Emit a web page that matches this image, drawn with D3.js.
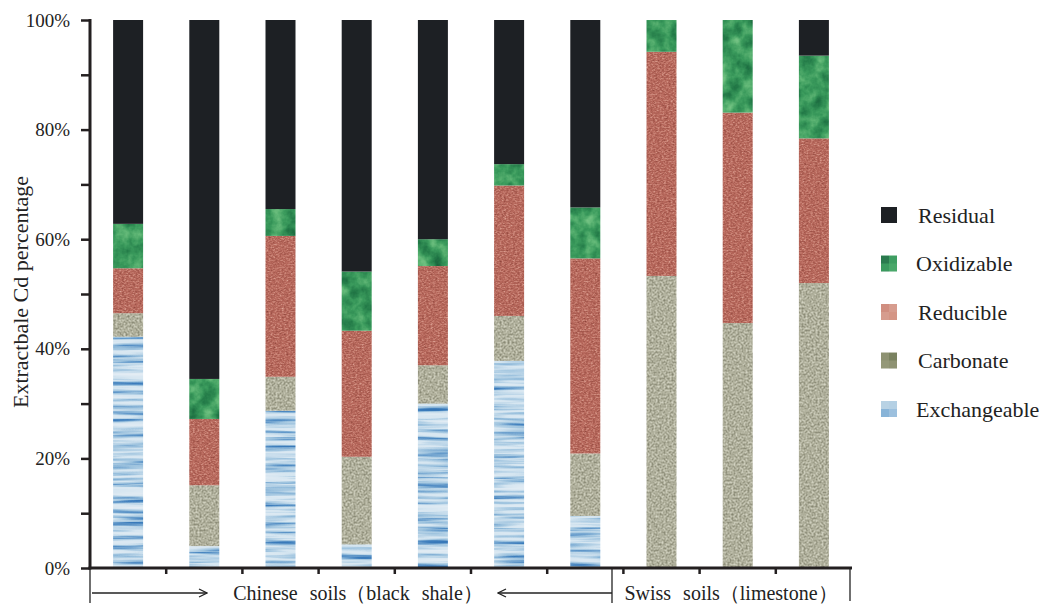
<!DOCTYPE html>
<html>
<head>
<meta charset="utf-8">
<script src="https://cdn.jsdelivr.net/npm/d3@7"></script>
<style>
  body { margin: 0; background: #fff; }
  svg text { font-family: "Liberation Serif", "Times New Roman", "DejaVu Serif", serif; fill: #222; }
</style>
</head>
<body>
<svg id="drawing_region"></svg>
<script>
// samples (no labels on the x axis in the original)
const samples = ["C1", "C2", "C3", "C4", "C5", "C6", "C7", "S1", "S2", "S3"];
const fractions = ["Exchangeable", "Carbonate", "Reducible", "Oxidizable", "Residual"];
// Cd fraction percentages
const exchangeable = [42.2, 4.0, 28.7, 4.3, 30.0, 37.8, 9.5, 0, 0, 0];
const carbonate    = [4.3, 11.1, 6.2, 16.0, 7.0, 8.2, 11.4, 53.3, 44.7, 52.0];
const reducible    = [8.2, 12.1, 25.7, 23.0, 18.1, 23.8, 35.6, 40.9, 38.4, 26.4];
const oxidizable   = [8.1, 7.3, 4.9, 10.8, 4.9, 3.9, 9.3, 5.8, 16.9, 15.1];
const residual     = [37.2, 65.5, 34.5, 45.9, 40.0, 26.3, 34.2, 0, 0, 6.5];
const yTicks = [0, 10, 20, 30, 40, 50, 60, 70, 80, 90, 100];
const groupLabels = ["Chinese soils（black shale）", "Swiss soils（limestone）"];
const legendOrder = ["Residual", "Oxidizable", "Reducible", "Carbonate", "Exchangeable"];

const series = {Exchangeable: exchangeable, Carbonate: carbonate, Reducible: reducible,
                Oxidizable: oxidizable, Residual: residual};
const table = samples.map((s, i) => {
    const row = {sample: s};
    fractions.forEach(f => row[f] = series[f][i]);
    return row;
});

const config = {
    width: 1043, height: 606,
    left: 90, right: 852, top: 20, bottom: 568
};

const svg = d3.select('#drawing_region')
    .attr('width', config.width)
    .attr('height', config.height);

const defs = svg.append('defs');

// texture filters: noise -> grey -> colour ramp -> clipped to the shape
const textures = {
    Exchangeable: {freq: "0.01 0.22", oct: 3, ramp: ["#2d68a6", "#3b7cbc", "#9cc2de", "#d6e6f1", "#e2ecf4", "#e8f0f5"]},
    Carbonate:    {freq: "0.5", oct: 2, ramp: ["#727260", "#8e8e7a", "#b0b09c", "#cfcfbe", "#e4e4d6"]},
    Reducible:    {freq: "0.45 0.7", oct: 2, ramp: ["#7e3a32", "#a2564b", "#b8695d", "#cf8c7e", "#e6b8aa"]},
    Oxidizable:   {freq: "0.07", oct: 4, ramp: ["#175a38", "#237a48", "#3a9a5c", "#62b877", "#86cc90"]}
};

Object.entries(textures).forEach(([name, t]) => {
    const rgb = t.ramp.map(c => d3.rgb(c));
    const f = defs.append('filter')
        .attr('id', 'tex-' + name)
        .attr('x', 0).attr('y', 0).attr('width', 1).attr('height', 1)
        .attr('color-interpolation-filters', 'sRGB');
    f.append('feTurbulence')
        .attr('type', 'fractalNoise')
        .attr('baseFrequency', t.freq)
        .attr('numOctaves', t.oct)
        .attr('seed', name.length * 7)
        .attr('result', 'noise');
    f.append('feColorMatrix')
        .attr('type', 'matrix')
        .attr('values', '1 0 0 0 0  1 0 0 0 0  1 0 0 0 0  0 0 0 0 1');
    const ct = f.append('feComponentTransfer');
    ct.append('feFuncR').attr('type', 'table').attr('tableValues', rgb.map(c => (c.r / 255).toFixed(3)).join(' '));
    ct.append('feFuncG').attr('type', 'table').attr('tableValues', rgb.map(c => (c.g / 255).toFixed(3)).join(' '));
    ct.append('feFuncB').attr('type', 'table').attr('tableValues', rgb.map(c => (c.b / 255).toFixed(3)).join(' '));
    f.append('feComposite').attr('in2', 'SourceGraphic').attr('operator', 'in');
});

// legend swatch patterns (2x2 tone blocks)
const swatchTones = {
    Residual: ["#1d2024", "#1d2024", "#1d2024", "#1d2024"],
    Oxidizable: ["#2a7a4e", "#3e9e62", "#3a9a5e", "#4aa86a"],
    Reducible: ["#d08e80", "#d69c8e", "#d69c8e", "#d49585"],
    Carbonate: ["#8e9272", "#7a8260", "#949878", "#8e9272"],
    Exchangeable: ["#b8d2e4", "#b4d0e4", "#88b4d8", "#9cc0de"]
};
Object.entries(swatchTones).forEach(([name, tones]) => {
    const p = defs.append('pattern')
        .attr('id', 'sw-' + name)
        .attr('patternUnits', 'userSpaceOnUse')
        .attr('width', 16).attr('height', 16);
    tones.forEach((c, i) => {
        p.append('rect')
            .attr('x', (i % 2) * 8).attr('y', Math.floor(i / 2) * 8)
            .attr('width', 8).attr('height', 8)
            .attr('fill', c);
    });
});

const xscale = d3.scaleBand()
    .domain(samples)
    .range([config.left, config.right])
    .padding(0);

const yscale = d3.scaleLinear()
    .domain([0, 100])
    .range([config.bottom, config.top]);

const barWidth = 30;
const stacked = d3.stack().keys(fractions)(table);

const baseFill = {Residual: '#1d2024', Oxidizable: '#2f8a55', Reducible: '#b0645a',
                  Carbonate: '#a6a690', Exchangeable: '#9cc0de'};

svg.append('g')
    .selectAll('g')
    .data(stacked)
    .join('g')
    .each(function(layer) {
        d3.select(this).selectAll('rect')
            .data(layer.filter(d => d[1] - d[0] > 0))
            .join('rect')
            .attr('x', d => xscale(d.data.sample) + (xscale.bandwidth() - barWidth) / 2)
            .attr('width', barWidth)
            .attr('y', d => yscale(d[1]))
            .attr('height', d => yscale(d[0]) - yscale(d[1]))
            .attr('fill', baseFill[layer.key])
            .attr('filter', layer.key === 'Residual' ? null : `url(#tex-${layer.key})`);
    });

// y axis
const yaxis = d3.axisLeft(yscale)
    .tickValues(yTicks)
    .tickSize(9)
    .tickPadding(11)
    .tickFormat(d => d % 20 === 0 ? d + '%' : '');

const yg = svg.append('g')
    .attr('transform', `translate(${config.left}, 0)`)
    .call(yaxis);
yg.select('.domain').attr('stroke', '#231f20').attr('stroke-width', 3)
    .attr('d', `M0,${config.top - 1}V${config.bottom + 1.5}`);
yg.selectAll('.tick line').attr('stroke', '#231f20').attr('stroke-width', 2.5);
yg.selectAll('.tick text')
    .attr('font-size', 19)
    .style('font-family', '"Liberation Serif", "Times New Roman", serif')
    .attr('fill', '#222');

// x axis line with ticks at band boundaries
const xg = svg.append('g');
xg.append('line')
    .attr('x1', config.left - 1.5).attr('x2', config.right)
    .attr('y1', config.bottom).attr('y2', config.bottom)
    .attr('stroke', '#231f20').attr('stroke-width', 3);
xg.selectAll('.xtick')
    .data(samples.slice(1))
    .join('line')
    .attr('class', 'xtick')
    .attr('x1', d => xscale(d)).attr('x2', d => xscale(d))
    .attr('y1', config.bottom).attr('y2', config.bottom + 6)
    .attr('stroke', '#231f20').attr('stroke-width', 2.5);

// y label
svg.append('text')
    .attr('transform', 'translate(28, 292) rotate(-90)')
    .attr('text-anchor', 'middle')
    .attr('font-size', 22)
    .text('Extractbale Cd percentage');

// group brackets under the axis
defs.append('marker')
    .attr('id', 'arrow')
    .attr('viewBox', '0 0 10 10')
    .attr('refX', 9).attr('refY', 5)
    .attr('markerWidth', 10).attr('markerHeight', 10)
    .attr('markerUnits', 'userSpaceOnUse')
    .attr('orient', 'auto')
    .append('path')
    .attr('d', 'M1,1 L9,5 L1,9')
    .attr('fill', 'none')
    .attr('stroke', '#222')
    .attr('stroke-width', 1.3);

const split = 612;
const br = svg.append('g').attr('stroke', '#222').attr('stroke-width', 1.3).attr('fill', 'none');
br.append('line').attr('x1', config.left).attr('x2', config.left).attr('y1', config.bottom).attr('y2', 603);
br.append('line').attr('x1', split).attr('x2', split).attr('y1', config.bottom).attr('y2', 603);
br.append('line').attr('x1', config.right - 2).attr('x2', config.right - 2).attr('y1', config.bottom).attr('y2', 601);
br.append('line').attr('x1', config.left + 2).attr('x2', 207).attr('y1', 593).attr('y2', 593)
    .attr('marker-end', 'url(#arrow)');
br.append('line').attr('x1', split).attr('x2', 498).attr('y1', 593).attr('y2', 593)
    .attr('marker-end', 'url(#arrow)');

svg.append('text')
    .attr('x', 358).attr('y', 600)
    .attr('text-anchor', 'middle')
    .attr('font-size', 20)
    .attr('word-spacing', 7)
    .text(groupLabels[0]);
svg.append('text')
    .attr('x', 731).attr('y', 600)
    .attr('text-anchor', 'middle')
    .attr('font-size', 20)
    .attr('word-spacing', 7)
    .text(groupLabels[1]);

// legend
const legend = svg.append('g')
    .selectAll('g')
    .data(legendOrder)
    .join('g')
    .attr('transform', (d, i) => `translate(881, ${207 + i * 48.5})`);
legend.append('rect')
    .attr('width', 16).attr('height', 16)
    .attr('fill', d => `url(#sw-${d})`);
legend.append('text')
    .attr('x', d => d === 'Oxidizable' || d === 'Exchangeable' ? 35 : 37)
    .attr('y', 8)
    .attr('dy', '0.35em')
    .attr('font-size', 22)
    .text(d => d);
</script>
</body>
</html>
